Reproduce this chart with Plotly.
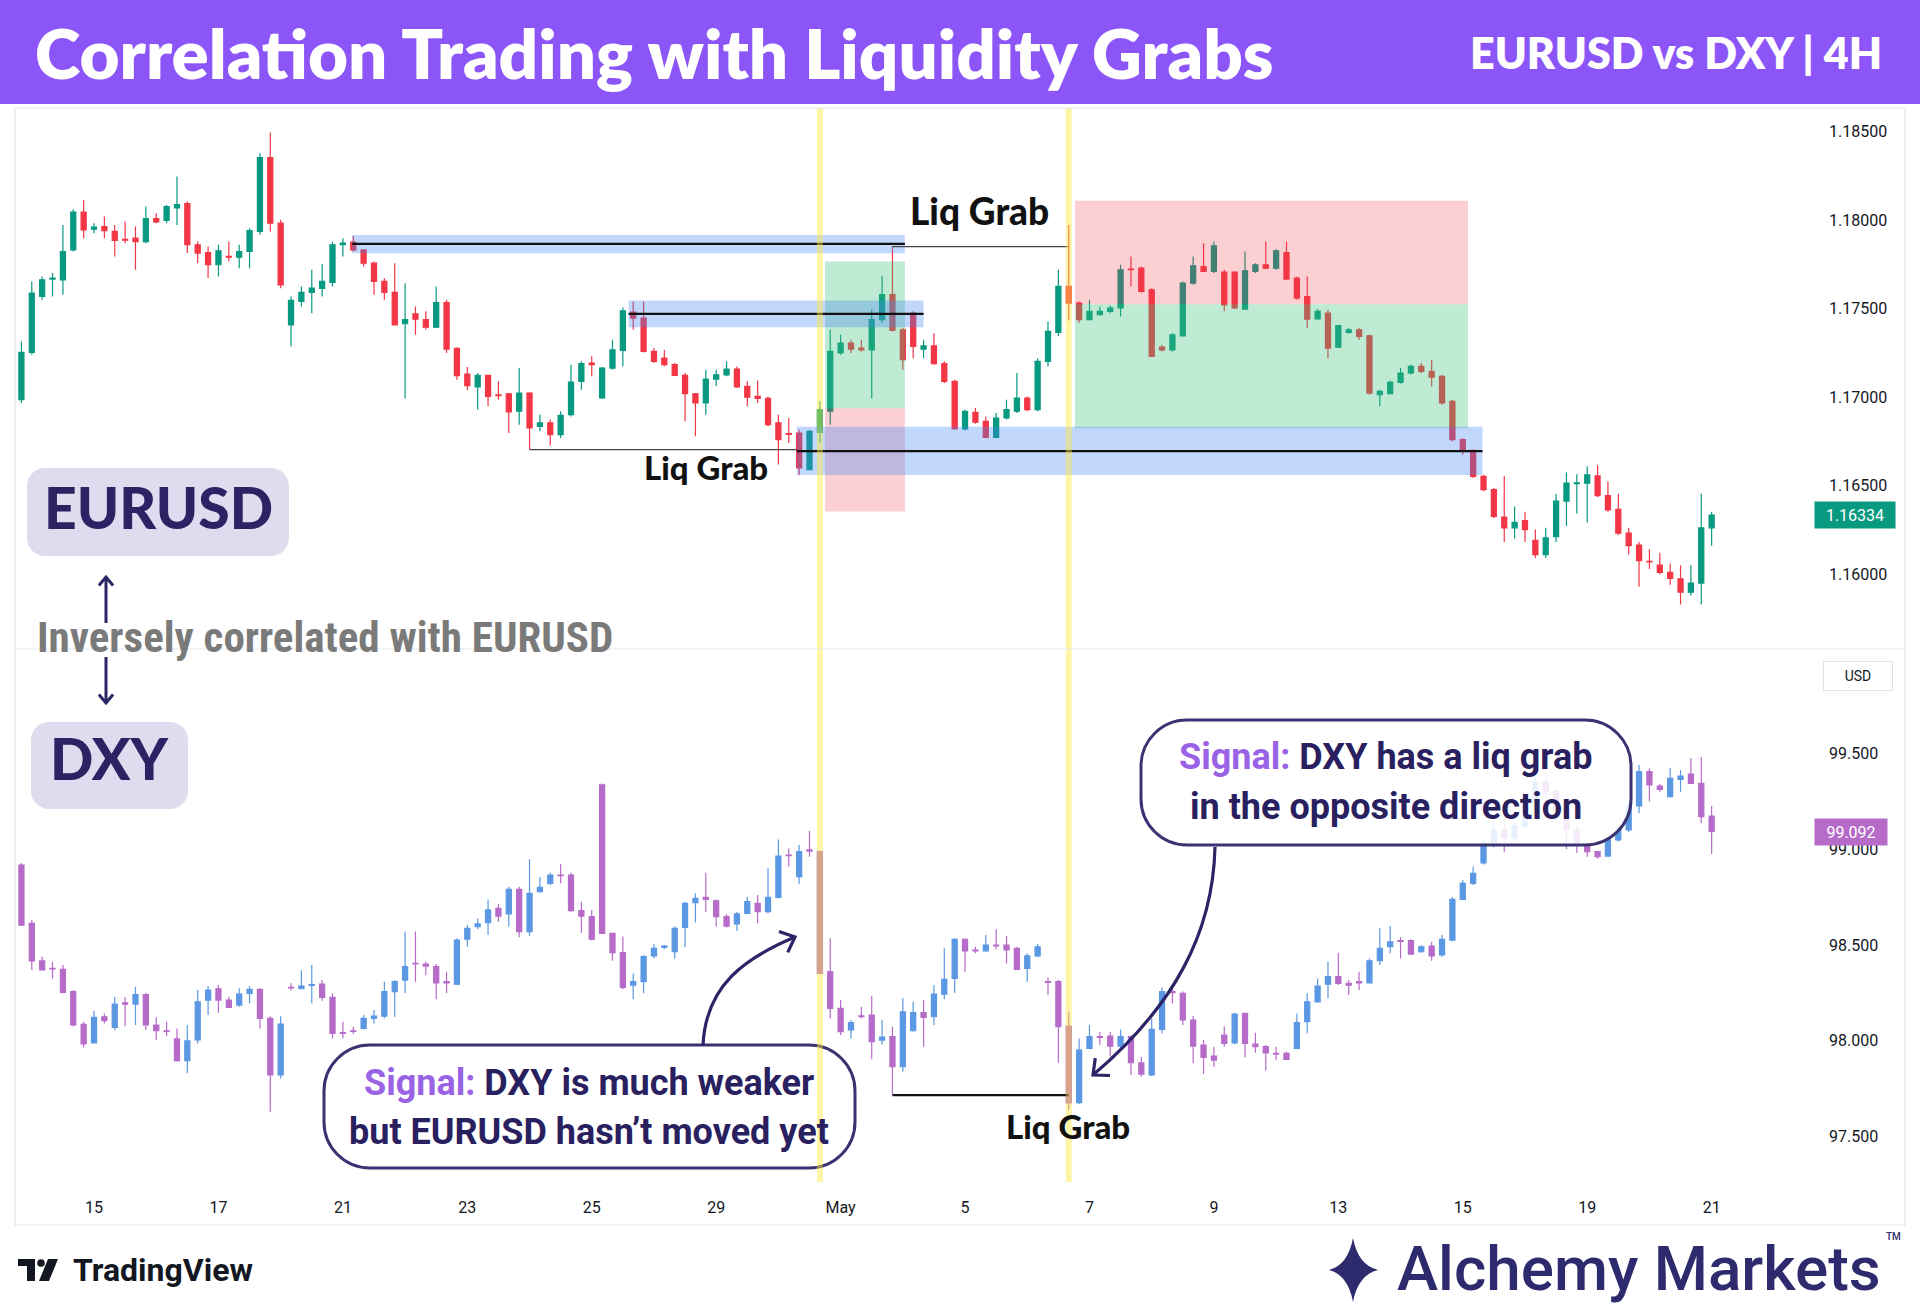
import math
import plotly.graph_objects as go

# ---------------------------------------------------------------- data
candle_idx = list(range(164))          # 4H candles, 6 per trading day
tick_idx = [7, 19, 31, 43, 55, 67, 79, 91, 103, 115, 127, 139, 151, 163]
tick_labels = ["15", "17", "21", "23", "25", "29", "May", "5", "7", "9", "13", "15", "19", "21"]

eur_open = [1.16985, 1.17252, 1.17568, 1.17666, 1.17662, 1.17831, 1.18044, 1.17948, 1.17963, 1.17935,
            1.17890, 1.17897, 1.17878, 1.18008, 1.17997, 1.18068, 1.18093, 1.17860, 1.17816, 1.17747,
            1.17794, 1.17790, 1.17822, 1.17935, 1.18352, 1.17982, 1.17408, 1.17540, 1.17591, 1.17613,
            1.17647, 1.17860, 1.17875, 1.17831, 1.17756, 1.17653, 1.17591, 1.17414, 1.17470, 1.17437,
            1.17395, 1.17534, 1.17275, 1.17130, 1.17057, 1.17123, 1.17012, 1.17019, 1.16920, 1.17023,
            1.16835, 1.16854, 1.16788, 1.16901, 1.17089, 1.17192, 1.16995, 1.17164, 1.17264, 1.17480,
            1.17446, 1.17258, 1.17220, 1.17183, 1.17123, 1.17019, 1.16967, 1.17102, 1.17126, 1.17158,
            1.17061, 1.17004, 1.16993, 1.16854, 1.16794, 1.16797, 1.16591, 1.16801, 1.16920, 1.17249,
            1.17305, 1.17277, 1.17267, 1.17437, 1.17578, 1.17380, 1.17474, 1.17271, 1.17290, 1.17189,
            1.17089, 1.16820, 1.16914, 1.16863, 1.16773, 1.16882, 1.16920, 1.16995, 1.16929, 1.17202,
            1.17365, 1.17625, 1.17531, 1.17437, 1.17465, 1.17484, 1.17503, 1.17722, 1.17728, 1.17606,
            1.17282, 1.17267, 1.17346, 1.17643, 1.17737, 1.17709, 1.17705, 1.17705, 1.17497, 1.17709,
            1.17747, 1.17728, 1.17816, 1.17672, 1.17568, 1.17442, 1.17474, 1.17282, 1.17365, 1.17380,
            1.17346, 1.17014, 1.17019, 1.17083, 1.17136, 1.17173, 1.17145, 1.17117, 1.16976, 1.16760,
            1.16700, 1.16553, 1.16478, 1.16323, 1.16262, 1.16303, 1.16192, 1.16111, 1.16212, 1.16413,
            1.16512, 1.16514, 1.16555, 1.16444, 1.16367, 1.16232, 1.16165, 1.16073, 1.16051, 1.16010,
            1.15974, 1.15899, 1.15950, 1.16262]
eur_high = [1.17314, 1.17653, 1.17681, 1.17700, 1.17972, 1.18061, 1.18113, 1.17982, 1.18019, 1.17972,
            1.17991, 1.17963, 1.18076, 1.18038, 1.18085, 1.18245, 1.18104, 1.17878, 1.17850, 1.17860,
            1.17878, 1.17860, 1.17953, 1.18377, 1.18493, 1.18001, 1.17568, 1.17625, 1.17719, 1.17752,
            1.17878, 1.17897, 1.17910, 1.17835, 1.17766, 1.17672, 1.17756, 1.17643, 1.17512, 1.17484,
            1.17625, 1.17549, 1.17282, 1.17170, 1.17136, 1.17126, 1.17089, 1.17023, 1.17164, 1.17027,
            1.16901, 1.16873, 1.16920, 1.17183, 1.17202, 1.17230, 1.17170, 1.17324, 1.17506, 1.17540,
            1.17540, 1.17277, 1.17267, 1.17192, 1.17136, 1.17023, 1.17155, 1.17155, 1.17202, 1.17173,
            1.17089, 1.17094, 1.17004, 1.16901, 1.16882, 1.16816, 1.16816, 1.16976, 1.17380, 1.17352,
            1.17324, 1.17324, 1.17493, 1.17685, 1.17850, 1.17390, 1.17484, 1.17324, 1.17361, 1.17202,
            1.17098, 1.16929, 1.16939, 1.16891, 1.16910, 1.16985, 1.17136, 1.17004, 1.17220, 1.17427,
            1.17719, 1.17972, 1.17540, 1.17549, 1.17512, 1.17516, 1.17747, 1.17794, 1.17737, 1.17615,
            1.17296, 1.17361, 1.17653, 1.17794, 1.17869, 1.17878, 1.17719, 1.17709, 1.17822, 1.17756,
            1.17878, 1.17835, 1.17878, 1.17681, 1.17681, 1.17497, 1.17493, 1.17408, 1.17390, 1.17390,
            1.17352, 1.17042, 1.17094, 1.17164, 1.17183, 1.17192, 1.17211, 1.17126, 1.16985, 1.16769,
            1.16703, 1.16562, 1.16487, 1.16555, 1.16383, 1.16353, 1.16252, 1.16262, 1.16454, 1.16575,
            1.16565, 1.16609, 1.16615, 1.16524, 1.16454, 1.16262, 1.16182, 1.16141, 1.16121, 1.16061,
            1.16051, 1.16051, 1.16454, 1.16353]
eur_low = [1.16967, 1.17239, 1.17549, 1.17568, 1.17578, 1.17822, 1.17897, 1.17925, 1.17897, 1.17794,
           1.17869, 1.17719, 1.17869, 1.17982, 1.17982, 1.17972, 1.17813, 1.17756, 1.17672, 1.17681,
           1.17766, 1.17728, 1.17728, 1.17916, 1.17935, 1.17615, 1.17286, 1.17512, 1.17474, 1.17568,
           1.17625, 1.17794, 1.17822, 1.17737, 1.17578, 1.17549, 1.17408, 1.16992, 1.17352, 1.17380,
           1.17390, 1.17249, 1.17098, 1.17038, 1.16929, 1.16948, 1.16985, 1.16797, 1.16844, 1.16703,
           1.16807, 1.16727, 1.16769, 1.16891, 1.17042, 1.17117, 1.16989, 1.17155, 1.17173, 1.17380,
           1.17252, 1.17192, 1.17173, 1.17117, 1.16863, 1.16779, 1.16901, 1.17061, 1.17117, 1.17051,
           1.16948, 1.16967, 1.16835, 1.16619, 1.16741, 1.16562, 1.16587, 1.16741, 1.16844, 1.17239,
           1.17249, 1.17258, 1.16992, 1.17418, 1.17371, 1.17155, 1.17220, 1.17220, 1.17183, 1.17079,
           1.16816, 1.16812, 1.16850, 1.16769, 1.16769, 1.16873, 1.16910, 1.16920, 1.16920, 1.17173,
           1.17343, 1.17433, 1.17418, 1.17433, 1.17459, 1.17474, 1.17455, 1.17625, 1.17591, 1.17226,
           1.17258, 1.17258, 1.17343, 1.17634, 1.17705, 1.17700, 1.17484, 1.17497, 1.17493, 1.17700,
           1.17722, 1.17719, 1.17662, 1.17549, 1.17390, 1.17437, 1.17220, 1.17277, 1.17358, 1.17324,
           1.17014, 1.16948, 1.17014, 1.17076, 1.17126, 1.17136, 1.17061, 1.16957, 1.16750, 1.16675,
           1.16544, 1.16469, 1.16318, 1.16182, 1.16202, 1.16182, 1.16091, 1.16091, 1.16182, 1.16272,
           1.16343, 1.16292, 1.16434, 1.16353, 1.16222, 1.16111, 1.15930, 1.16030, 1.16000, 1.15940,
           1.15829, 1.15879, 1.15829, 1.16161]
eur_close = [1.17252, 1.17587, 1.17662, 1.17672, 1.17822, 1.18044, 1.17944, 1.17959, 1.17940, 1.17884,
             1.17886, 1.17878, 1.18008, 1.17989, 1.18076, 1.18087, 1.17860, 1.17813, 1.17747, 1.17826,
             1.17790, 1.17822, 1.17940, 1.18352, 1.17982, 1.17634, 1.17546, 1.17591, 1.17615, 1.17653,
             1.17860, 1.17869, 1.17831, 1.17756, 1.17653, 1.17591, 1.17408, 1.17437, 1.17440, 1.17395,
             1.17534, 1.17271, 1.17121, 1.17064, 1.17123, 1.17004, 1.17008, 1.16916, 1.17023, 1.16826,
             1.16854, 1.16788, 1.16897, 1.17085, 1.17189, 1.17183, 1.17164, 1.17267, 1.17487, 1.17446,
             1.17258, 1.17202, 1.17183, 1.17123, 1.17019, 1.16967, 1.17102, 1.17126, 1.17158, 1.17057,
             1.17000, 1.16993, 1.16844, 1.16760, 1.16790, 1.16600, 1.16807, 1.16929, 1.17258, 1.17305,
             1.17271, 1.17267, 1.17437, 1.17578, 1.17376, 1.17211, 1.17286, 1.17290, 1.17189, 1.17089,
             1.16820, 1.16920, 1.16858, 1.16773, 1.16882, 1.16929, 1.16995, 1.16929, 1.17202, 1.17371,
             1.17625, 1.17531, 1.17437, 1.17484, 1.17484, 1.17503, 1.17719, 1.17719, 1.17597, 1.17230,
             1.17267, 1.17352, 1.17643, 1.17741, 1.17709, 1.17854, 1.17521, 1.17503, 1.17713, 1.17747,
             1.17728, 1.17826, 1.17666, 1.17559, 1.17440, 1.17484, 1.17277, 1.17403, 1.17380, 1.17343,
             1.17023, 1.17032, 1.17083, 1.17136, 1.17173, 1.17145, 1.17113, 1.16967, 1.16760, 1.16703,
             1.16553, 1.16478, 1.16327, 1.16262, 1.16293, 1.16252, 1.16111, 1.16206, 1.16413, 1.16514,
             1.16516, 1.16561, 1.16444, 1.16363, 1.16232, 1.16161, 1.16077, 1.16069, 1.16010, 1.15976,
             1.15899, 1.15950, 1.16262, 1.16334]

dxy_open = [98.917, 98.613, 98.417, 98.378, 98.373, 98.257, 98.086, 97.990, 98.126, 98.070,
            98.199, 98.192, 98.241, 98.083, 98.053, 98.010, 97.897, 98.005, 98.213, 98.272,
            98.213, 98.187, 98.248, 98.269, 98.117, 97.822, 98.279, 98.272, 98.289, 98.296,
            98.227, 98.043, 98.053, 98.065, 98.117, 98.129, 98.257, 98.317, 98.404, 98.401,
            98.387, 98.309, 98.296, 98.530, 98.596, 98.617, 98.691, 98.662, 98.790, 98.570,
            98.778, 98.822, 98.865, 98.865, 98.679, 98.648, 99.335, 98.561, 98.460, 98.291,
            98.309, 98.443, 98.488, 98.465, 98.592, 98.721, 98.749, 98.731, 98.648, 98.610,
            98.665, 98.717, 98.674, 98.749, 98.969, 98.857, 98.996, 98.987, 98.361, 98.170,
            98.057, 98.130, 98.135, 98.004, 98.022, 97.865, 98.053, 98.147, 98.126, 98.244,
            98.326, 98.530, 98.474, 98.470, 98.500, 98.500, 98.483, 98.378, 98.443, 98.309,
            98.309, 98.077, 97.678, 97.961, 98.022, 98.025, 97.973, 98.022, 97.886, 97.822,
            98.060, 98.257, 98.248, 98.109, 97.978, 97.921, 98.030, 97.990, 98.143, 97.983,
            97.970, 97.935, 97.935, 97.961, 98.100, 98.204, 98.296, 98.335, 98.300, 98.309,
            98.303, 98.418, 98.491, 98.523, 98.523, 98.465, 98.495, 98.448, 98.526, 98.738,
            98.822, 98.929, 99.030, 99.100, 99.060, 99.120, 99.250, 99.350, 99.300, 99.200,
            99.100, 99.013, 98.987, 98.964, 99.048, 99.100, 99.225, 99.404, 99.329, 99.274,
            99.364, 99.392, 99.343, 99.173]
dxy_high = [98.926, 98.630, 98.439, 98.413, 98.396, 98.265, 98.100, 98.157, 98.143, 98.230,
            98.227, 98.283, 98.248, 98.123, 98.100, 98.065, 98.083, 98.265, 98.286, 98.291,
            98.230, 98.274, 98.286, 98.274, 98.129, 98.129, 98.300, 98.369, 98.396, 98.317,
            98.248, 98.100, 98.074, 98.135, 98.161, 98.309, 98.317, 98.570, 98.570, 98.413,
            98.401, 98.361, 98.535, 98.604, 98.639, 98.738, 98.714, 98.804, 98.804, 98.947,
            98.853, 98.877, 98.922, 98.877, 98.726, 98.683, 99.343, 98.564, 98.544, 98.352,
            98.448, 98.505, 98.500, 98.596, 98.726, 98.770, 98.877, 98.738, 98.662, 98.674,
            98.752, 98.761, 98.900, 99.051, 99.004, 99.022, 99.096, 98.992, 98.535, 98.213,
            98.109, 98.178, 98.234, 98.109, 98.074, 98.222, 98.204, 98.213, 98.291, 98.483,
            98.535, 98.535, 98.491, 98.552, 98.582, 98.547, 98.491, 98.457, 98.505, 98.331,
            98.317, 98.152, 98.013, 98.083, 98.048, 98.048, 98.060, 98.030, 97.917, 98.117,
            98.279, 98.274, 98.257, 98.130, 98.004, 97.970, 98.077, 98.147, 98.147, 98.043,
            97.978, 97.970, 97.943, 98.143, 98.248, 98.326, 98.413, 98.460, 98.317, 98.361,
            98.430, 98.587, 98.599, 98.540, 98.530, 98.500, 98.517, 98.552, 98.750, 98.839,
            98.909, 99.060, 99.140, 99.135, 99.140, 99.270, 99.400, 99.380, 99.320, 99.220,
            99.120, 99.030, 98.990, 99.060, 99.120, 99.240, 99.439, 99.421, 99.340, 99.422,
            99.413, 99.474, 99.479, 99.225]
dxy_low = [98.599, 98.370, 98.366, 98.326, 98.248, 98.077, 97.966, 97.987, 98.091, 98.057,
           98.077, 98.083, 98.057, 98.005, 98.025, 97.891, 97.831, 97.987, 98.135, 98.147,
           98.170, 98.178, 98.196, 98.065, 97.631, 97.804, 98.262, 98.269, 98.196, 98.210,
           98.013, 98.013, 98.036, 98.060, 98.091, 98.117, 98.126, 98.248, 98.309, 98.343,
           98.217, 98.248, 98.291, 98.491, 98.582, 98.552, 98.622, 98.596, 98.540, 98.547,
           98.773, 98.813, 98.822, 98.674, 98.564, 98.523, 98.557, 98.418, 98.269, 98.217,
           98.248, 98.430, 98.478, 98.430, 98.488, 98.617, 98.674, 98.596, 98.592, 98.575,
           98.662, 98.613, 98.665, 98.743, 98.909, 98.818, 98.961, 98.349, 98.117, 98.031,
           98.013, 98.117, 97.904, 97.980, 97.717, 97.839, 98.048, 97.970, 98.083, 98.217,
           98.251, 98.361, 98.457, 98.465, 98.477, 98.404, 98.370, 98.309, 98.436, 98.239,
           97.886, 97.639, 97.671, 97.956, 97.978, 97.917, 97.952, 97.822, 97.813, 97.817,
           98.039, 98.196, 98.083, 97.883, 97.827, 97.865, 97.970, 97.983, 97.914, 97.938,
           97.845, 97.900, 97.900, 97.956, 98.039, 98.199, 98.222, 98.291, 98.239, 98.265,
           98.300, 98.396, 98.457, 98.430, 98.448, 98.460, 98.418, 98.439, 98.520, 98.735,
           98.813, 98.920, 99.010, 98.987, 99.040, 99.100, 99.230, 99.250, 99.150, 99.000,
           98.980, 98.961, 98.950, 98.960, 99.040, 99.090, 99.187, 99.248, 99.300, 99.270,
           99.300, 99.340, 99.135, 98.975]
dxy_close = [98.604, 98.417, 98.370, 98.375, 98.253, 98.083, 97.984, 98.123, 98.105, 98.192,
             98.192, 98.241, 98.083, 98.053, 98.050, 97.897, 98.000, 98.204, 98.265, 98.213,
             98.175, 98.244, 98.269, 98.117, 97.822, 98.088, 98.276, 98.286, 98.293, 98.227,
             98.039, 98.039, 98.050, 98.117, 98.129, 98.257, 98.309, 98.387, 98.401, 98.390,
             98.303, 98.303, 98.526, 98.587, 98.610, 98.683, 98.651, 98.790, 98.570, 98.770,
             98.801, 98.865, 98.862, 98.679, 98.651, 98.530, 98.561, 98.460, 98.279, 98.309,
             98.439, 98.483, 98.495, 98.587, 98.717, 98.744, 98.738, 98.648, 98.599, 98.662,
             98.726, 98.674, 98.749, 98.964, 98.966, 98.987, 98.990, 98.352, 98.170, 98.048,
             98.095, 98.126, 97.996, 98.020, 97.865, 98.152, 98.147, 98.123, 98.244, 98.321,
             98.530, 98.470, 98.470, 98.500, 98.495, 98.474, 98.373, 98.443, 98.491, 98.305,
             98.074, 97.677, 97.952, 98.022, 98.018, 97.973, 98.022, 97.886, 97.827, 98.060,
             98.257, 98.251, 98.109, 97.973, 97.914, 97.900, 97.987, 98.140, 97.987, 97.970,
             97.938, 97.931, 97.903, 98.095, 98.204, 98.286, 98.335, 98.300, 98.291, 98.303,
             98.418, 98.483, 98.517, 98.519, 98.453, 98.491, 98.443, 98.530, 98.738, 98.822,
             98.874, 99.030, 99.100, 99.060, 99.120, 99.250, 99.350, 99.300, 99.200, 99.100,
             99.030, 98.987, 98.961, 99.048, 99.108, 99.222, 99.404, 99.335, 99.312, 99.369,
             99.381, 99.343, 99.169, 99.092]

eur_ticks = [1.16, 1.165, 1.17, 1.175, 1.18, 1.185]
dxy_ticks = [97.5, 98.0, 98.5, 99.0, 99.5]
eur_last, dxy_last = 1.16334, 99.092

# drawn zones on EURUSD: (x_start, x_end, low, high)
zone_blue_high = (31.9, 85.2, 1.17812, 1.17915)
zone_blue_mid = (58.55, 87.0, 1.17394, 1.17545)
zone_blue_low = (74.8, 140.9, 1.16560, 1.16833)
trade1_target = (77.5, 85.2, 1.16937, 1.17765)
trade1_stop = (77.5, 85.2, 1.16354, 1.16937)
trade2_stop = (101.6, 139.5, 1.17524, 1.18109)
trade2_target = (101.6, 139.5, 1.16824, 1.17524)
# levels: (x_start, x_end, price)
level_high = (31.9, 85.2, 1.17865)
level_mid = (58.55, 87.0, 1.17470)
level_low = (74.8, 140.9, 1.16695)
grab_eur_top = (84.0, 101.0, 1.17850)
grab_eur_low = (49.0, 74.8, 1.16703)
grab_dxy = (84.0, 101.0, 97.717)
signal_candles = [77, 101]

# ---------------------------------------------------------------- styling
EUR_UP, EUR_DN = "#089981", "#F23645"
DXY_UP, DXY_DN = "#5B98E3", "#B66BC9"
NAVY = "#2B2466"
PURPLE = "#8C55F7"
SIG = "#9A63E6"

PL, PR, PT, PB = 15, 1806, 108, 1182      # plot area in page pixels
SPLIT = 649                               # pane separator (pixels)


def P(X, Y):
    return (X - PL) / (PR - PL), (PB - Y) / (PB - PT)


def fmt(pt):
    return f"{pt[0]:.5f},{pt[1]:.5f}"


def roundrect(X0, Y0, X1, Y1, r):
    k = 0.5523 * r
    s = "M" + fmt(P(X0 + r, Y0))
    s += " L" + fmt(P(X1 - r, Y0))
    s += " C" + fmt(P(X1 - r + k, Y0)) + " " + fmt(P(X1, Y0 + r - k)) + " " + fmt(P(X1, Y0 + r))
    s += " L" + fmt(P(X1, Y1 - r))
    s += " C" + fmt(P(X1, Y1 - r + k)) + " " + fmt(P(X1 - r + k, Y1)) + " " + fmt(P(X1 - r, Y1))
    s += " L" + fmt(P(X0 + r, Y1))
    s += " C" + fmt(P(X0 + r - k, Y1)) + " " + fmt(P(X0, Y1 - r + k)) + " " + fmt(P(X0, Y1 - r))
    s += " L" + fmt(P(X0, Y0 + r))
    s += " C" + fmt(P(X0, Y0 + r - k)) + " " + fmt(P(X0 + r - k, Y0)) + " " + fmt(P(X0 + r, Y0))
    return s + " Z"


def chevron(tip, frm, length=17, ang=42):
    dx, dy = frm[0] - tip[0], frm[1] - tip[1]
    n = math.hypot(dx, dy)
    dx, dy = dx / n, dy / n
    pts = []
    for a in (ang, -ang):
        t = math.radians(a)
        rx = dx * math.cos(t) - dy * math.sin(t)
        ry = dx * math.sin(t) + dy * math.cos(t)
        pts.append((tip[0] + rx * length, tip[1] + ry * length))
    return "M" + fmt(P(*pts[0])) + " L" + fmt(P(*tip)) + " L" + fmt(P(*pts[1]))


def cubic(p0, p1, p2, p3):
    return "M" + fmt(P(*p0)) + " C" + fmt(P(*p1)) + " " + fmt(P(*p2)) + " " + fmt(P(*p3))


fig = go.Figure()
fig.add_trace(go.Candlestick(
    x=candle_idx, open=eur_open, high=eur_high, low=eur_low, close=eur_close,
    xaxis="x", yaxis="y", whiskerwidth=0, hoverinfo="skip", showlegend=False, name="EURUSD",
    increasing=dict(line=dict(color=EUR_UP, width=1.2), fillcolor=EUR_UP),
    decreasing=dict(line=dict(color=EUR_DN, width=1.2), fillcolor=EUR_DN)))
fig.add_trace(go.Candlestick(
    x=candle_idx, open=dxy_open, high=dxy_high, low=dxy_low, close=dxy_close,
    xaxis="x", yaxis="y2", whiskerwidth=0, hoverinfo="skip", showlegend=False, name="DXY",
    increasing=dict(line=dict(color=DXY_UP, width=1.2), fillcolor=DXY_UP),
    decreasing=dict(line=dict(color=DXY_DN, width=1.2), fillcolor=DXY_DN)))

shapes = []


def zone(z, color, yref="y"):
    shapes.append(dict(type="rect", xref="x", yref=yref, x0=z[0], x1=z[1], y0=z[2], y1=z[3],
                       fillcolor=color, line=dict(width=0), layer="above"))


def level(lv, width, color, yref="y"):
    shapes.append(dict(type="line", xref="x", yref=yref, x0=lv[0], x1=lv[1], y0=lv[2], y1=lv[2],
                       line=dict(color=color, width=width), layer="above"))


BLUE_Z = "rgba(66,133,244,0.33)"
GREEN_Z = "rgba(60,190,120,0.33)"
RED_Z = "rgba(242,54,69,0.24)"
zone(trade2_stop, RED_Z)
zone(trade2_target, GREEN_Z)
zone(trade1_target, GREEN_Z)
zone(trade1_stop, RED_Z)
zone(zone_blue_high, BLUE_Z)
zone(zone_blue_mid, BLUE_Z)
zone(zone_blue_low, BLUE_Z)
level(level_high, 2.2, "#111111")
level(level_mid, 2.2, "#111111")
level(level_low, 2.2, "#111111")
level(grab_eur_top, 1.2, "#444444")
level(grab_eur_low, 1.2, "#444444")
level(grab_dxy, 2.2, "#111111", "y2")

# callout boxes
shapes.append(dict(type="path", xref="paper", yref="paper", path=roundrect(324, 1045, 855, 1168, 46),
                   fillcolor="rgba(255,255,255,0.86)", line=dict(color="#3A3372", width=3), layer="above"))
shapes.append(dict(type="path", xref="paper", yref="paper", path=roundrect(1141, 720, 1631, 845, 46),
                   fillcolor="rgba(255,255,255,0.86)", line=dict(color="#3A3372", width=3), layer="above"))

# yellow signal-candle highlights
for c in signal_candles:
    shapes.append(dict(type="rect", xref="x", yref="paper", x0=c - 0.29, x1=c + 0.29, y0=0, y1=1,
                       fillcolor="rgba(255,232,60,0.45)", line=dict(width=0), layer="above"))

# curved arrows from callouts
a1 = [(703, 1045), (706, 985), (745, 958), (795, 937)]
a2 = [(1215, 847), (1213, 935), (1172, 1008), (1093, 1075)]
for pts in (a1, a2):
    shapes.append(dict(type="path", xref="paper", yref="paper", path=cubic(*pts),
                       line=dict(color=NAVY, width=3.2), layer="above"))
    shapes.append(dict(type="path", xref="paper", yref="paper", path=chevron(pts[3], pts[2]),
                       line=dict(color=NAVY, width=3.2), layer="above"))

# double arrow between the badges
for (ya, yb) in ((577, 623), (657, 703)):
    x0p, y0p = P(106, ya)
    x1p, y1p = P(106, yb)
    shapes.append(dict(type="line", xref="paper", yref="paper", x0=x0p, x1=x1p, y0=y0p, y1=y1p,
                       line=dict(color=NAVY, width=3)))
shapes.append(dict(type="path", xref="paper", yref="paper", path=chevron((106, 577), (106, 600), 11, 40),
                   line=dict(color=NAVY, width=3)))
shapes.append(dict(type="path", xref="paper", yref="paper", path=chevron((106, 703), (106, 680), 11, 40),
                   line=dict(color=NAVY, width=3)))

# badges
shapes.append(dict(type="path", xref="paper", yref="paper", path=roundrect(27, 468, 289, 556, 18),
                   fillcolor="#DEDCEF", line=dict(width=0)))
shapes.append(dict(type="path", xref="paper", yref="paper", path=roundrect(31, 722, 188, 809, 18),
                   fillcolor="#DEDCEF", line=dict(width=0)))

# header band, chart frame, pane separator
hx0, hy0 = P(0, 0)
hx1, hy1 = P(1920, 104)
shapes.append(dict(type="rect", xref="paper", yref="paper", x0=hx0, x1=hx1, y0=hy1, y1=hy0,
                   fillcolor=PURPLE, line=dict(width=0)))
fx0, fy0 = P(15, 108)
fx1, fy1 = P(1905, 1225)
shapes.append(dict(type="rect", xref="paper", yref="paper", x0=fx0, x1=fx1, y0=fy1, y1=fy0,
                   line=dict(color="#E3E5EC", width=1.2)))
sx0, sy = P(15, SPLIT)
sx1, _ = P(1905, SPLIT)
shapes.append(dict(type="line", xref="paper", yref="paper", x0=sx0, x1=sx1, y0=sy, y1=sy,
                   line=dict(color="#E8EAF0", width=1.2)))


# TradingView mark
def poly(pts):
    return "M" + " L".join(fmt(P(*p)) for p in pts) + " Z"


shapes.append(dict(type="path", xref="paper", yref="paper",
                   path=poly([(18, 1259), (35, 1259), (35, 1281), (27, 1281), (27, 1266), (18, 1266)]),
                   fillcolor="#131722", line=dict(width=0)))
cx, cy = P(41, 1263)
rx = 3.8 / (PR - PL)
ry = 3.8 / (PB - PT)
shapes.append(dict(type="circle", xref="paper", yref="paper", x0=cx - rx, x1=cx + rx, y0=cy - ry, y1=cy + ry,
                   fillcolor="#131722", line=dict(width=0)))
shapes.append(dict(type="path", xref="paper", yref="paper",
                   path=poly([(48, 1259), (58, 1259), (49, 1281), (39, 1281)]),
                   fillcolor="#131722", line=dict(width=0)))

# Alchemy mark (four-point star)
st = [(1353, 1238), (1378, 1270), (1353, 1302), (1329, 1270)]
star = ("M" + fmt(P(*st[0])) +
        " Q" + fmt(P(1358, 1265)) + " " + fmt(P(*st[1])) +
        " Q" + fmt(P(1358, 1275)) + " " + fmt(P(*st[2])) +
        " Q" + fmt(P(1348, 1275)) + " " + fmt(P(*st[3])) +
        " Q" + fmt(P(1348, 1265)) + " " + fmt(P(*st[0])) + " Z")
shapes.append(dict(type="path", xref="paper", yref="paper", path=star, fillcolor="#2D2A6E", line=dict(width=0)))

annotations = []


def note(X, Y, text, size, color, family="Roboto", weight=700, xanchor="center", **kw):
    x, y = P(X, Y)
    d = dict(x=x, y=y, xref="paper", yref="paper", text=text, showarrow=False,
             xanchor=xanchor, yanchor="middle",
             font=dict(family=family, size=size, color=color, weight=weight))
    d.update(kw)
    annotations.append(d)


note(33, 52, "Correlation Trading with Liquidity Grabs", 69, "white", "Lato", 800, "left")
note(1884, 52, "EURUSD vs DXY | 4H", 43, "white", "Lato", 800, "right")
note(158, 507, "EURUSD", 57, "#2B2363", "Lato", 900)
note(110, 758, "DXY", 57, "#2B2363", "Lato", 900)
note(35, 637, "<span style='font-stretch:75%'>Inversely correlated with EURUSD</span>", 43, "#7A7A7A",
     "Roboto Condensed, Roboto", 700, "left")

sig = "<span style='color:%s'>Signal:</span> " % SIG
note(589, 1083, sig + "DXY is much weaker", 36, "#29215F")
note(589, 1132, "but EURUSD hasn’t moved yet", 36, "#29215F")
note(1386, 757, sig + "DXY has a liq grab", 36, "#29215F")
note(1386, 807, "in the opposite direction", 36, "#29215F")

# Liq Grab labels (data anchored)
for (xi, yv, yref, fs) in ((92.4, 1.18056, "y", 37), (66.0, 1.16607, "y", 33), (100.9, 97.556, "y2", 33)):
    annotations.append(dict(x=xi, y=yv, xref="x", yref=yref, text="Liq Grab", showarrow=False,
                            xanchor="center", yanchor="middle",
                            font=dict(family="Lato", size=fs, color="#111111", weight=900)))

# last price tags and currency label
xtag, _ = P(1855, 0)
annotations.append(dict(x=xtag, y=eur_last, xref="paper", yref="y", text=f"{eur_last:.5f}", showarrow=False,
                        xanchor="center", yanchor="middle", bgcolor=EUR_UP, width=78, height=24,
                        font=dict(family="Roboto", size=16, color="white")))
xtag2, _ = P(1851, 0)
annotations.append(dict(x=xtag2, y=dxy_last, xref="paper", yref="y2", text=f"{dxy_last:.3f}", showarrow=False,
                        xanchor="center", yanchor="middle", bgcolor="#B66BC9", width=70, height=24,
                        font=dict(family="Roboto", size=16, color="white")))
note(1858, 676, "USD", 14, "#131722", "Roboto", 400, bordercolor="#E0E3EB", borderwidth=1,
     width=66, height=26, bgcolor="white")

# footer
note(71, 1270, "TradingView", 32, "#131722", "Roboto", 700, "left")
note(1395, 1268, "Alchemy Markets", 62, "#2D2A6E", "Roboto", 500, "left")
note(1893, 1236, "TM", 10, "#2D2A6E", "Roboto", 500)

axis_font = dict(family="Roboto", size=16, color="#131722")
fig.update_layout(
    width=1920, height=1314,
    margin=dict(l=PL, r=1920 - PR, t=PT, b=1314 - PB, pad=0),
    paper_bgcolor="white", plot_bgcolor="white",
    showlegend=False, hovermode=False,
    xaxis=dict(domain=[0, 1], anchor="y2", range=[-0.62, 172.1], rangeslider=dict(visible=False),
               tickmode="array", tickvals=tick_idx, ticktext=tick_labels, showgrid=False,
               zeroline=False, showline=False, ticks="", ticklabelstandoff=14, tickfont=axis_font),
    yaxis=dict(domain=[(PB - SPLIT) / (PB - PT), 1], anchor="x", side="right",
               range=[1.15578, 1.18632], tickmode="array", tickvals=eur_ticks, tickformat=".5f",
               showgrid=False, zeroline=False, showline=False, ticks="", ticklabelstandoff=22,
               tickfont=axis_font),
    yaxis2=dict(domain=[0, (PB - SPLIT) / (PB - PT)], anchor="x", side="right",
                range=[97.264, 100.044], tickmode="array", tickvals=dxy_ticks, tickformat=".3f",
                showgrid=False, zeroline=False, showline=False, ticks="", ticklabelstandoff=22,
                tickfont=axis_font),
    shapes=shapes, annotations=annotations,
)

fig.write_html("out.html")
